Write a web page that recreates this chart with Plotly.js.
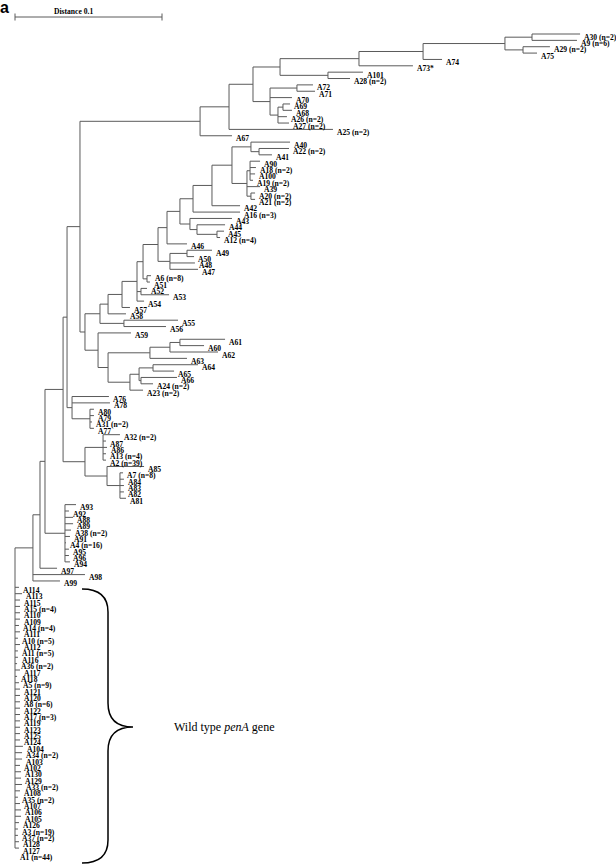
<!DOCTYPE html>
<html><head><meta charset="utf-8">
<script src="https://cdn.plot.ly/plotly-3.0.1.min.js"></script>
<style>html,body{margin:0;padding:0;background:#fff}</style>
</head><body><div id="chart" style="width:616px;height:867px"></div>
<script>
// ---------------- DATA ----------------
const leafLabels = ["A30 (n=2)","A9 (n=6)","A29 (n=2)","A75","A74","A73*","A101","A28 (n=2)","A72","A71","A70","A69","A68","A26 (n=2)","A27 (n=2)","A25 (n=2)","A67","A40","A22 (n=2)","A41","A90","A18 (n=2)","A100","A19 (n=2)","A39","A20 (n=2)","A21 (n=2)","A42","A16 (n=3)","A43","A44","A45","A12 (n=4)","A46","A49","A50","A48","A47","A6 (n=8)","A51","A52","A53","A54","A57","A58","A55","A56","A59","A61","A60","A62","A63","A64","A65","A66","A24 (n=2)","A23 (n=2)","A76","A78","A80","A79","A31 (n=2)","A77","A32 (n=2)","A87","A86","A13 (n=4)","A2 (n=39)","A85","A7 (n=8)","A84","A83","A82","A81","A93","A92","A88","A89","A38 (n=2)","A91","A4 (n=16)","A95","A96","A94","A97","A98","A99","A114","A113","A115","A15 (n=4)","A110","A109","A14 (n=4)","A111","A10 (n=5)","A112","A11 (n=5)","A116","A36 (n=2)","A117","A118","A5 (n=9)","A121","A120","A8 (n=6)","A122","A17 (n=3)","A119","A123","A125","A124","A104","A34 (n=2)","A103","A102","A130","A129","A33 (n=2)","A108","A35 (n=2)","A107","A106","A105","A126","A3 (n=19)","A37 (n=2)","A128","A127","A1 (n=44)"];
const leafParent = ["Nc","Nc","Nd","Nd","Na","Ne","Nf","Nf","Nj","Nj","Nk","Nm","Nm","Nl","Nl","Ni","Nh","Np","Nq","Nq","Ns","Ns","Ns","Ns","Nr","N20","N20","Nv","Nw","N43","N44","N45","N45","C8","N49b","N49b","N49g","N49g","N6","N6","N52","N52","N54","N57","N58","N55","N55","D1","N60a","N60a","N60b","N60c","N64","N64","N66","N66","N62","N76","N76","N80","N80","N80","N80","N87","N87","N87","N87","N87","N85","N7","N7","N7","N7","N7","N93","N93","N93","N93","N93","N93","N93","N93","N93","N93","E4","E5","E5","root","root","root","root","root","root","root","root","root","root","root","root","root","root","root","root","root","root","root","root","root","root","root","root","root","root","root","root","root","root","root","root","root","root","root","root","root","root","root","root","root","root"];
const leafDepth = [0.3844,0.3823,0.3639,0.3551,0.2905,0.2707,0.2367,0.2279,0.2027,0.2041,0.1884,0.1871,0.1884,0.1850,0.1864,0.2163,0.1476,0.1871,0.1864,0.1748,0.1667,0.1639,0.1633,0.1619,0.1667,0.1633,0.1633,0.1531,0.1531,0.1476,0.1429,0.1422,0.1395,0.1170,0.1340,0.1218,0.1224,0.1245,0.0925,0.0918,0.0898,0.1048,0.0878,0.0782,0.0755,0.1109,0.1027,0.0789,0.1429,0.1286,0.1381,0.1170,0.1245,0.1082,0.1102,0.0939,0.0871,0.0639,0.0646,0.0537,0.0537,0.0524,0.0537,0.0714,0.0619,0.0626,0.0619,0.0619,0.0878,0.0735,0.0741,0.0741,0.0741,0.0755,0.0415,0.0367,0.0395,0.0395,0.0381,0.0374,0.0347,0.0367,0.0367,0.0374,0.0286,0.0476,0.0306,0.0027,0.0048,0.0034,0.0034,0.0034,0.0034,0.0027,0.0034,0.0020,0.0034,0.0020,0.0020,0.0014,0.0034,0.0014,0.0027,0.0034,0.0034,0.0034,0.0034,0.0034,0.0034,0.0034,0.0034,0.0034,0.0054,0.0048,0.0048,0.0034,0.0041,0.0041,0.0048,0.0034,0.0020,0.0034,0.0041,0.0041,0.0027,0.0020,0.0020,0.0027,0.0027,0.0007];
const innerName   = ["root","E5","E4","E3","E2","E1","B1","N76","N80","N86","N87","N85","N7","N93","C1","C2","D1","N58","N55","N57","N54","C6","N52","N6","C7","N49g","N49b","C8","Nx2","N43","N44","N45","Nw","Nv","Nu","Np","Nq","Nr","Ns","N20","N59","N60c","N60b","N60a","N62","N63","N64","N66","Nh","Ni","Nn","Nk","Nj","Nl","Nm","Ng","Nf","Ne","Na","Nb","Nc","Nd"];
const innerParent = ["","root","E5","E4","E3","E2","E1","E1","N76","E2","N86","N86","N85","E3","B1","C1","C1","C2","C2","N58","N57","N54","N54","C6","C6","C7","N49g","C7","C8","Nx2","N43","N44","Nx2","Nw","Nv","Nu","Np","Nu","Nr","Nr","D1","N59","N60c","N60b","N59","N62","N63","N63","B1","Nh","Ni","Nn","Nk","Nk","Nl","Nn","Ng","Ng","Ne","Na","Nb","Nb"];
const innerDepth  = [0,0.0122,0.0170,0.0204,0.0327,0.0354,0.0442,0.0388,0.0510,0.0476,0.0599,0.0626,0.0714,0.0340,0.0476,0.0578,0.0565,0.0633,0.0741,0.0728,0.0830,0.0871,0.0857,0.0898,0.0973,0.1054,0.1170,0.1034,0.1122,0.1190,0.1238,0.1374,0.1211,0.1340,0.1476,0.1605,0.1660,0.1578,0.1599,0.1605,0.0633,0.0918,0.1054,0.1122,0.0782,0.0844,0.0939,0.0857,0.1259,0.1456,0.1619,0.1735,0.1918,0.1789,0.1823,0.1803,0.2129,0.2340,0.2776,0.3333,0.3517,0.3456];
const scaleBarLength = 0.1;
const scaleBarText = "Distance 0.1";
const panelLetter = "a";
const groupText = "Wild type <i>penA</i> gene";

// ---------------- LAYOUT CALIBRATION ----------------
const W = 616, H = 867;
const X0PX = 15, PX_PER_UNIT = 1470;
const Y0PX = 34, PX_PER_ROW = 6.36;
const X = px => (px - X0PX) / PX_PER_UNIT;
const Y = py => (py - Y0PX) / PX_PER_ROW;

// ---------------- TREE BUILD ----------------
const depth = {}, parent = {}, kids = {}, row = {};
leafLabels.forEach((n, i) => { depth[n] = leafDepth[i]; parent[n] = leafParent[i]; row[n] = i; });
innerName.forEach((n, i) => { depth[n] = innerDepth[i]; parent[n] = innerParent[i]; });
Object.keys(parent).forEach(n => { const p = parent[n]; if (p) (kids[p] = kids[p] || []).push(n); });
function getRow(n) {
  if (row[n] !== undefined) return row[n];
  const ys = kids[n].map(getRow);
  row[n] = (Math.min(...ys) + Math.max(...ys)) / 2;
  return row[n];
}
getRow("root");
const lx = [], ly = [];
Object.keys(kids).forEach(n => {
  const ys = kids[n].map(c => row[c]);
  lx.push(depth[n], depth[n], null); ly.push(Math.min(...ys), Math.max(...ys), null);
});
Object.keys(parent).forEach(n => {
  const p = parent[n];
  if (p) { lx.push(depth[p], depth[n], null); ly.push(row[n], row[n], null); }
});

const lineColor = "#5a5a5a";
const traces = [{
  x: lx, y: ly, type: "scatter", mode: "lines",
  line: { color: lineColor, width: 1 }, hoverinfo: "skip", connectgaps: false
}];

const annotations = leafLabels.map((t, i) => ({
  x: leafDepth[i], y: i, xref: "x", yref: "y", text: "<b>" + t + "</b>",
  xanchor: "left", yanchor: "middle", xshift: 2, yshift: -3, showarrow: false,
  font: { family: "Liberation Serif", size: 7.6, color: "#000" }
}));
annotations.push({
  x: X(52), y: Y(11), xref: "x", yref: "y", text: "<b>" + scaleBarText + "</b>",
  xanchor: "left", yanchor: "middle", showarrow: false,
  font: { family: "Liberation Serif", size: 7.6, color: "#000" }
});
annotations.push({
  x: 0, y: 1 - 7 / H, xref: "paper", yref: "paper", text: "<b>" + panelLetter + "</b>",
  xanchor: "left", yanchor: "middle", showarrow: false, borderpad: 0, xshift: -1,
  font: { family: "Liberation Sans", size: 16, color: "#000" }
});
annotations.push({
  x: X(172), y: Y(727), xref: "x", yref: "y", text: groupText,
  xanchor: "left", yanchor: "middle", showarrow: false,
  font: { family: "Liberation Serif", size: 12, color: "#000" }
});

const sbY = Y(17);
const shapes = [
  { type: "line", xref: "x", yref: "y", x0: 0, x1: scaleBarLength, y0: sbY, y1: sbY, line: { color: lineColor, width: 1 } },
  { type: "line", xref: "x", yref: "y", x0: 0, x1: 0, y0: Y(13.5), y1: Y(20.5), line: { color: lineColor, width: 1 } },
  { type: "line", xref: "x", yref: "y", x0: scaleBarLength, x1: scaleBarLength, y0: Y(13.5), y1: Y(20.5), line: { color: lineColor, width: 1 } }
];
const P = (px, py) => X(px) + "," + Y(py);
shapes.push({
  type: "path", xref: "x", yref: "y",
  path: "M" + P(82, 589) + " Q" + P(108, 589) + " " + P(108, 612) +
        " L" + P(108, 703) + " Q" + P(108, 727) + " " + P(133, 727) +
        " Q" + P(108, 727) + " " + P(108, 751) + " L" + P(108, 840) +
        " Q" + P(108, 863) + " " + P(82, 863),
  line: { color: "#000", width: 1.5 }
});

const layout = {
  width: W, height: H, margin: { l: 0, r: 0, t: 0, b: 0 },
  paper_bgcolor: "#fff", plot_bgcolor: "#fff", showlegend: false,
  xaxis: { range: [X(0), X(W)], visible: false, fixedrange: true },
  yaxis: { range: [Y(H), Y(0)], visible: false, fixedrange: true },
  annotations: annotations, shapes: shapes
};
Plotly.newPlot("chart", traces, layout, { staticPlot: true, displayModeBar: false });
</script>
</body></html>
